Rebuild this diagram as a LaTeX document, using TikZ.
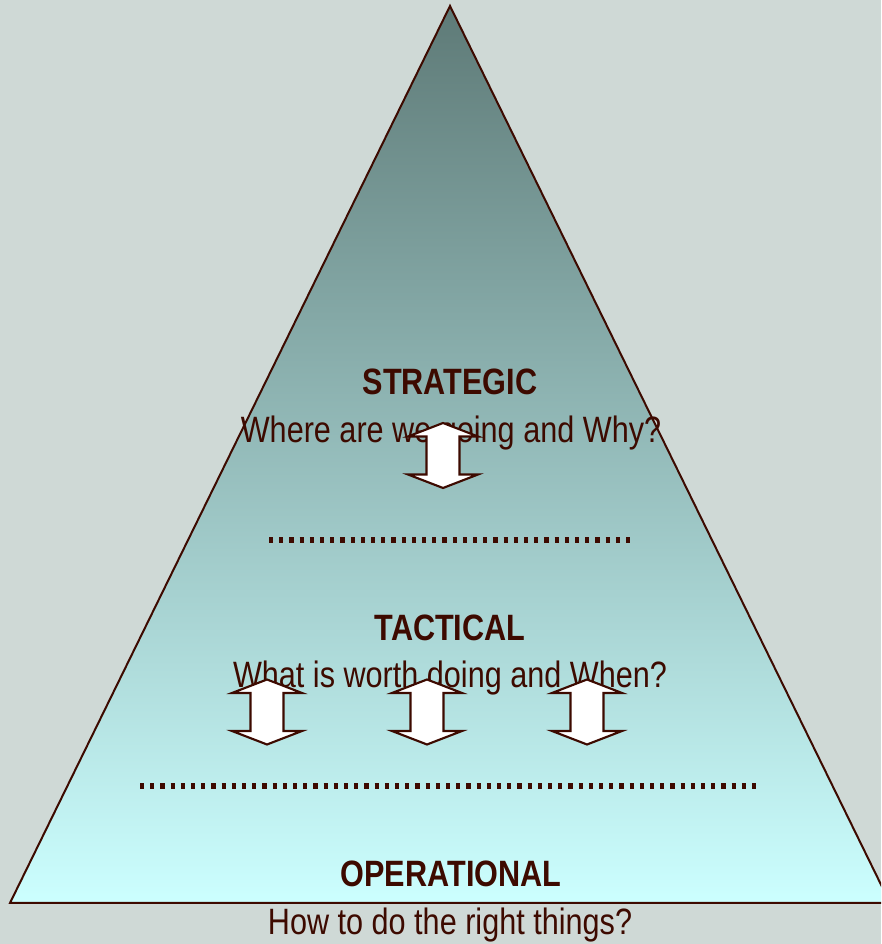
\documentclass[tikz,border=0pt]{standalone}
\usepackage{fontspec}
\setmainfont{Liberation Sans}[FakeStretch=0.835]
\definecolor{backc}{RGB}{207,217,214}
\definecolor{inkc}{RGB}{61,10,0}
\definecolor{topc}{RGB}{94,122,119}
\definecolor{basec}{RGB}{204,255,255}
\tikzset{
  level/.style={text=inkc, anchor=base, inner sep=0pt, font=\fontsize{27.5}{33}\selectfont\bfseries},
  question/.style={text=inkc, anchor=base, inner sep=0pt, font=\fontsize{27.5}{33}\selectfont},
  divider/.style={inkc, line width=3.8pt, dash pattern=on 3.1pt off 4.55pt},
  updown/.style={draw=inkc, fill=white, line width=1.6pt, line join=miter}
}

\begin{document}
\begin{tikzpicture}[x=0.75pt, y=0.75pt]
  \useasboundingbox (0,0) rectangle (881,944);
  \fill[backc] (0,0) rectangle (881,944);
  \clip (0,0) rectangle (881,944);
  \coordinate (apex) at (450,938);
  \coordinate (left) at (10,41);
  \coordinate (right) at (890,41);
  \shade[top color=topc, bottom color=basec] (apex) -- (left) -- (right) -- cycle;
  \draw[inkc, line width=1.5pt, line join=miter] (apex) -- (left) -- (right) -- cycle;
  % levels
  \node[level] (strategic) at (450,549) {STRATEGIC};
  \node[question] (strategicq) at (451,501) {Where are we going and Why?};
  \node[level] (tactical) at (450,303) {TACTICAL};
  \node[question] (tacticalq) at (450,256) {What is worth doing and When?};
  \node[level] (operational) at (451,57) {OPERATIONAL};
  \node[question] (operationalq) at (450,9) {How to do the right things?};
  % dividers
  \coordinate (d1l) at (269,404);
  \coordinate (d1r) at (634,404);
  \coordinate (d2l) at (140,158);
  \coordinate (d2r) at (762,158);
  \draw[divider] (d1l) -- (d1r);
  \draw[divider] (d2l) -- (d2r);
  % arrows
  \foreach \cx/\cy in {443/488.5, 267/232, 427/232, 587/232}
    \draw[updown] (\cx,\cy) ++(0,32.5) -- ++(35,-13.5) -- ++(-18.5,0) -- ++(0,-38)
      -- ++(18.5,0) -- ++(-35,-13.5) -- ++(-35,13.5) -- ++(18.5,0) -- ++(0,38)
      -- ++(-18.5,0) -- cycle;
\end{tikzpicture}
\end{document}
